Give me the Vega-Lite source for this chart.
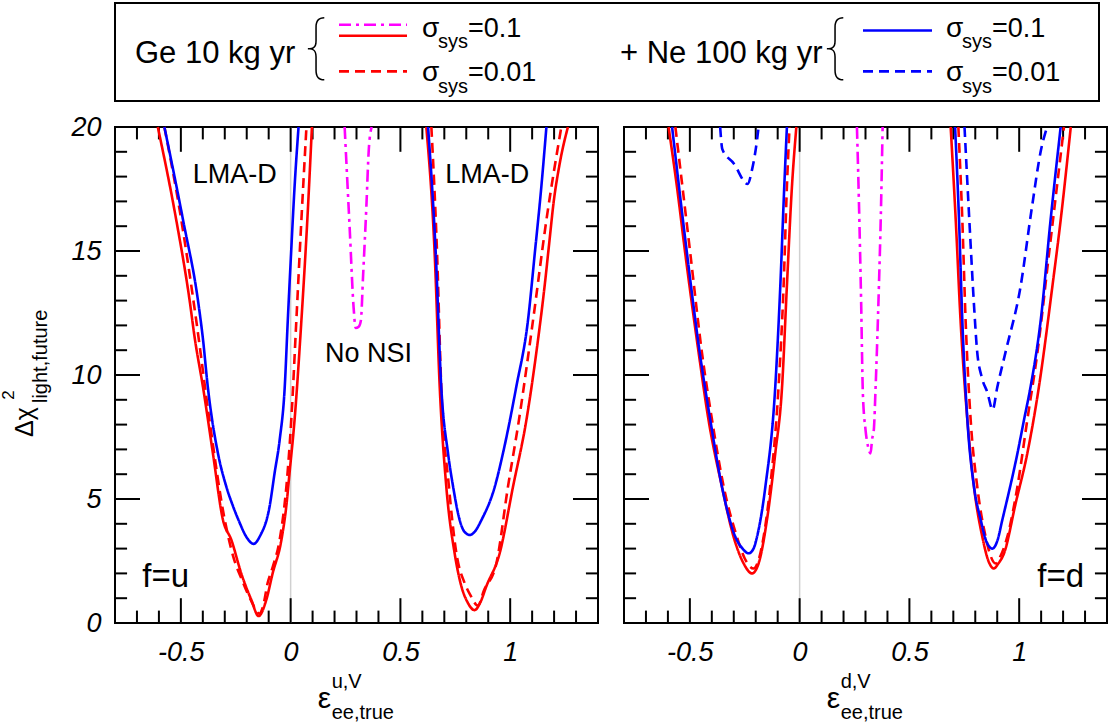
{
  "$schema": "https://vega.github.io/schema/vega-lite/v6.json",
  "background": "white",
  "autosize": {"type": "none"},
  "padding": {"left": 115, "top": 3, "right": 996, "bottom": 722},
  "config": {
    "font": "Liberation Sans",
    "view": {"stroke": "black", "strokeWidth": 2},
    "axis": {"grid": false, "domain": false, "labelFont": "Liberation Sans", "labelFontSize": 27, "labelFontStyle": "italic", "labelColor": "black", "labelFlush": false, "labelOverlap": false, "labelBound": false},
    "text": {"font": "Liberation Sans", "color": "black"}
  },
  "datasets": {
    "ticks": [
      {"tid": "bM1", "x": -0.5, "y": 0}, {"tid": "bM1", "x": -0.5, "y": 1}, {"tid": "bM2", "x": 0, "y": 0}, {"tid": "bM2", "x": 0, "y": 1}, {"tid": "bM3", "x": 0.5, "y": 0}, {"tid": "bM3", "x": 0.5, "y": 1}, {"tid": "bM4", "x": 1, "y": 0}, {"tid": "bM4", "x": 1, "y": 1},
      {"tid": "tM1", "x": -0.5, "y": 20}, {"tid": "tM1", "x": -0.5, "y": 19}, {"tid": "tM2", "x": 0, "y": 20}, {"tid": "tM2", "x": 0, "y": 19}, {"tid": "tM3", "x": 0.5, "y": 20}, {"tid": "tM3", "x": 0.5, "y": 19}, {"tid": "tM4", "x": 1, "y": 20}, {"tid": "tM4", "x": 1, "y": 19},
      {"tid": "bm1", "x": -0.7, "y": 0}, {"tid": "bm1", "x": -0.7, "y": 0.5}, {"tid": "bm2", "x": -0.6, "y": 0}, {"tid": "bm2", "x": -0.6, "y": 0.5}, {"tid": "bm3", "x": -0.4, "y": 0}, {"tid": "bm3", "x": -0.4, "y": 0.5}, {"tid": "bm4", "x": -0.3, "y": 0}, {"tid": "bm4", "x": -0.3, "y": 0.5}, {"tid": "bm5", "x": -0.2, "y": 0}, {"tid": "bm5", "x": -0.2, "y": 0.5}, {"tid": "bm6", "x": -0.1, "y": 0}, {"tid": "bm6", "x": -0.1, "y": 0.5}, {"tid": "bm7", "x": 0.1, "y": 0}, {"tid": "bm7", "x": 0.1, "y": 0.5}, {"tid": "bm8", "x": 0.2, "y": 0}, {"tid": "bm8", "x": 0.2, "y": 0.5}, {"tid": "bm9", "x": 0.3, "y": 0}, {"tid": "bm9", "x": 0.3, "y": 0.5}, {"tid": "bm10", "x": 0.4, "y": 0}, {"tid": "bm10", "x": 0.4, "y": 0.5}, {"tid": "bm11", "x": 0.6, "y": 0}, {"tid": "bm11", "x": 0.6, "y": 0.5}, {"tid": "bm12", "x": 0.7, "y": 0}, {"tid": "bm12", "x": 0.7, "y": 0.5}, {"tid": "bm13", "x": 0.8, "y": 0}, {"tid": "bm13", "x": 0.8, "y": 0.5}, {"tid": "bm14", "x": 0.9, "y": 0}, {"tid": "bm14", "x": 0.9, "y": 0.5}, {"tid": "bm15", "x": 1.1, "y": 0}, {"tid": "bm15", "x": 1.1, "y": 0.5}, {"tid": "bm16", "x": 1.2, "y": 0}, {"tid": "bm16", "x": 1.2, "y": 0.5}, {"tid": "bm17", "x": 1.3, "y": 0}, {"tid": "bm17", "x": 1.3, "y": 0.5},
      {"tid": "tm1", "x": -0.7, "y": 20}, {"tid": "tm1", "x": -0.7, "y": 19.5}, {"tid": "tm2", "x": -0.6, "y": 20}, {"tid": "tm2", "x": -0.6, "y": 19.5}, {"tid": "tm3", "x": -0.4, "y": 20}, {"tid": "tm3", "x": -0.4, "y": 19.5}, {"tid": "tm4", "x": -0.3, "y": 20}, {"tid": "tm4", "x": -0.3, "y": 19.5}, {"tid": "tm5", "x": -0.2, "y": 20}, {"tid": "tm5", "x": -0.2, "y": 19.5}, {"tid": "tm6", "x": -0.1, "y": 20}, {"tid": "tm6", "x": -0.1, "y": 19.5}, {"tid": "tm7", "x": 0.1, "y": 20}, {"tid": "tm7", "x": 0.1, "y": 19.5}, {"tid": "tm8", "x": 0.2, "y": 20}, {"tid": "tm8", "x": 0.2, "y": 19.5}, {"tid": "tm9", "x": 0.3, "y": 20}, {"tid": "tm9", "x": 0.3, "y": 19.5}, {"tid": "tm10", "x": 0.4, "y": 20}, {"tid": "tm10", "x": 0.4, "y": 19.5}, {"tid": "tm11", "x": 0.6, "y": 20}, {"tid": "tm11", "x": 0.6, "y": 19.5}, {"tid": "tm12", "x": 0.7, "y": 20}, {"tid": "tm12", "x": 0.7, "y": 19.5}, {"tid": "tm13", "x": 0.8, "y": 20}, {"tid": "tm13", "x": 0.8, "y": 19.5}, {"tid": "tm14", "x": 0.9, "y": 20}, {"tid": "tm14", "x": 0.9, "y": 19.5}, {"tid": "tm15", "x": 1.1, "y": 20}, {"tid": "tm15", "x": 1.1, "y": 19.5}, {"tid": "tm16", "x": 1.2, "y": 20}, {"tid": "tm16", "x": 1.2, "y": 19.5}, {"tid": "tm17", "x": 1.3, "y": 20}, {"tid": "tm17", "x": 1.3, "y": 19.5},
      {"tid": "lM1", "x": -0.8, "y": 5}, {"tid": "lM1", "x": -0.686, "y": 5}, {"tid": "lM2", "x": -0.8, "y": 10}, {"tid": "lM2", "x": -0.686, "y": 10}, {"tid": "lM3", "x": -0.8, "y": 15}, {"tid": "lM3", "x": -0.686, "y": 15},
      {"tid": "rM1", "x": 1.286, "y": 5}, {"tid": "rM1", "x": 1.4, "y": 5}, {"tid": "rM2", "x": 1.286, "y": 10}, {"tid": "rM2", "x": 1.4, "y": 10}, {"tid": "rM3", "x": 1.286, "y": 15}, {"tid": "rM3", "x": 1.4, "y": 15},
      {"tid": "lm1", "x": -0.8, "y": 1}, {"tid": "lm1", "x": -0.745, "y": 1}, {"tid": "lm2", "x": -0.8, "y": 2}, {"tid": "lm2", "x": -0.745, "y": 2}, {"tid": "lm3", "x": -0.8, "y": 3}, {"tid": "lm3", "x": -0.745, "y": 3}, {"tid": "lm4", "x": -0.8, "y": 4}, {"tid": "lm4", "x": -0.745, "y": 4}, {"tid": "lm5", "x": -0.8, "y": 6}, {"tid": "lm5", "x": -0.745, "y": 6}, {"tid": "lm6", "x": -0.8, "y": 7}, {"tid": "lm6", "x": -0.745, "y": 7}, {"tid": "lm7", "x": -0.8, "y": 8}, {"tid": "lm7", "x": -0.745, "y": 8}, {"tid": "lm8", "x": -0.8, "y": 9}, {"tid": "lm8", "x": -0.745, "y": 9}, {"tid": "lm9", "x": -0.8, "y": 11}, {"tid": "lm9", "x": -0.745, "y": 11}, {"tid": "lm10", "x": -0.8, "y": 12}, {"tid": "lm10", "x": -0.745, "y": 12}, {"tid": "lm11", "x": -0.8, "y": 13}, {"tid": "lm11", "x": -0.745, "y": 13}, {"tid": "lm12", "x": -0.8, "y": 14}, {"tid": "lm12", "x": -0.745, "y": 14}, {"tid": "lm13", "x": -0.8, "y": 16}, {"tid": "lm13", "x": -0.745, "y": 16}, {"tid": "lm14", "x": -0.8, "y": 17}, {"tid": "lm14", "x": -0.745, "y": 17}, {"tid": "lm15", "x": -0.8, "y": 18}, {"tid": "lm15", "x": -0.745, "y": 18}, {"tid": "lm16", "x": -0.8, "y": 19}, {"tid": "lm16", "x": -0.745, "y": 19},
      {"tid": "rm1", "x": 1.345, "y": 1}, {"tid": "rm1", "x": 1.4, "y": 1}, {"tid": "rm2", "x": 1.345, "y": 2}, {"tid": "rm2", "x": 1.4, "y": 2}, {"tid": "rm3", "x": 1.345, "y": 3}, {"tid": "rm3", "x": 1.4, "y": 3}, {"tid": "rm4", "x": 1.345, "y": 4}, {"tid": "rm4", "x": 1.4, "y": 4}, {"tid": "rm5", "x": 1.345, "y": 6}, {"tid": "rm5", "x": 1.4, "y": 6}, {"tid": "rm6", "x": 1.345, "y": 7}, {"tid": "rm6", "x": 1.4, "y": 7}, {"tid": "rm7", "x": 1.345, "y": 8}, {"tid": "rm7", "x": 1.4, "y": 8}, {"tid": "rm8", "x": 1.345, "y": 9}, {"tid": "rm8", "x": 1.4, "y": 9}, {"tid": "rm9", "x": 1.345, "y": 11}, {"tid": "rm9", "x": 1.4, "y": 11}, {"tid": "rm10", "x": 1.345, "y": 12}, {"tid": "rm10", "x": 1.4, "y": 12}, {"tid": "rm11", "x": 1.345, "y": 13}, {"tid": "rm11", "x": 1.4, "y": 13}, {"tid": "rm12", "x": 1.345, "y": 14}, {"tid": "rm12", "x": 1.4, "y": 14}, {"tid": "rm13", "x": 1.345, "y": 16}, {"tid": "rm13", "x": 1.4, "y": 16}, {"tid": "rm14", "x": 1.345, "y": 17}, {"tid": "rm14", "x": 1.4, "y": 17}, {"tid": "rm15", "x": 1.345, "y": 18}, {"tid": "rm15", "x": 1.4, "y": 18}, {"tid": "rm16", "x": 1.345, "y": 19}, {"tid": "rm16", "x": 1.4, "y": 19}
    ],
    "u": [
      {"series": "Ge 0.1", "branch": "A", "x": -0.605, "y": 20}, {"series": "Ge 0.1", "branch": "A", "x": -0.521, "y": 16.25}, {"series": "Ge 0.1", "branch": "A", "x": -0.46, "y": 13.0}, {"series": "Ge 0.1", "branch": "A", "x": -0.437, "y": 11.5}, {"series": "Ge 0.1", "branch": "A", "x": -0.399, "y": 9.5}, {"series": "Ge 0.1", "branch": "A", "x": -0.354, "y": 6.84}, {"series": "Ge 0.1", "branch": "A", "x": -0.308, "y": 4.15}, {"series": "Ge 0.1", "branch": "A", "x": -0.27, "y": 3.35}, {"series": "Ge 0.1", "branch": "A", "x": -0.225, "y": 2.0}, {"series": "Ge 0.1", "branch": "A", "x": -0.179, "y": 0.93}, {"series": "Ge 0.1", "branch": "A", "x": -0.146, "y": 0.28}, {"series": "Ge 0.1", "branch": "A", "x": -0.111, "y": 0.93}, {"series": "Ge 0.1", "branch": "A", "x": -0.082, "y": 2.0}, {"series": "Ge 0.1", "branch": "A", "x": -0.042, "y": 3.35}, {"series": "Ge 0.1", "branch": "A", "x": -0.02, "y": 4.69}, {"series": "Ge 0.1", "branch": "A", "x": -0.005, "y": 6.05}, {"series": "Ge 0.1", "branch": "A", "x": 0.018, "y": 8.2}, {"series": "Ge 0.1", "branch": "A", "x": 0.049, "y": 12.2}, {"series": "Ge 0.1", "branch": "A", "x": 0.076, "y": 16.25}, {"series": "Ge 0.1", "branch": "A", "x": 0.097, "y": 20},
      {"series": "Ge 0.1", "branch": "B", "x": 0.618, "y": 20}, {"series": "Ge 0.1", "branch": "B", "x": 0.656, "y": 14.9}, {"series": "Ge 0.1", "branch": "B", "x": 0.679, "y": 9.53}, {"series": "Ge 0.1", "branch": "B", "x": 0.709, "y": 5.5}, {"series": "Ge 0.1", "branch": "B", "x": 0.747, "y": 2.81}, {"series": "Ge 0.1", "branch": "B", "x": 0.778, "y": 1.47}, {"series": "Ge 0.1", "branch": "B", "x": 0.805, "y": 0.85}, {"series": "Ge 0.1", "branch": "B", "x": 0.838, "y": 0.52}, {"series": "Ge 0.1", "branch": "B", "x": 0.865, "y": 0.85}, {"series": "Ge 0.1", "branch": "B", "x": 0.891, "y": 1.47}, {"series": "Ge 0.1", "branch": "B", "x": 0.952, "y": 2.81}, {"series": "Ge 0.1", "branch": "B", "x": 1.013, "y": 5.5}, {"series": "Ge 0.1", "branch": "B", "x": 1.074, "y": 8.19}, {"series": "Ge 0.1", "branch": "B", "x": 1.119, "y": 10.9}, {"series": "Ge 0.1", "branch": "B", "x": 1.157, "y": 13.6}, {"series": "Ge 0.1", "branch": "B", "x": 1.18, "y": 15.5}, {"series": "Ge 0.1", "branch": "B", "x": 1.197, "y": 16.9}, {"series": "Ge 0.1", "branch": "B", "x": 1.225, "y": 18.5}, {"series": "Ge 0.1", "branch": "B", "x": 1.263, "y": 20},
      {"series": "Ge 0.01", "branch": "A", "x": -0.575, "y": 20}, {"series": "Ge 0.01", "branch": "A", "x": -0.498, "y": 16.25}, {"series": "Ge 0.01", "branch": "A", "x": -0.43, "y": 12.2}, {"series": "Ge 0.01", "branch": "A", "x": -0.37, "y": 8.2}, {"series": "Ge 0.01", "branch": "A", "x": -0.3, "y": 4.15}, {"series": "Ge 0.01", "branch": "A", "x": -0.262, "y": 2.7}, {"series": "Ge 0.01", "branch": "A", "x": -0.22, "y": 1.7}, {"series": "Ge 0.01", "branch": "A", "x": -0.18, "y": 0.9}, {"series": "Ge 0.01", "branch": "A", "x": -0.143, "y": 0.38}, {"series": "Ge 0.01", "branch": "A", "x": -0.125, "y": 0.7}, {"series": "Ge 0.01", "branch": "A", "x": -0.105, "y": 1.6}, {"series": "Ge 0.01", "branch": "A", "x": -0.08, "y": 2.3}, {"series": "Ge 0.01", "branch": "A", "x": -0.05, "y": 3.35}, {"series": "Ge 0.01", "branch": "A", "x": -0.014, "y": 6.05}, {"series": "Ge 0.01", "branch": "A", "x": 0.003, "y": 8.2}, {"series": "Ge 0.01", "branch": "A", "x": 0.026, "y": 12.2}, {"series": "Ge 0.01", "branch": "A", "x": 0.049, "y": 16.25}, {"series": "Ge 0.01", "branch": "A", "x": 0.072, "y": 20},
      {"series": "Ge 0.01", "branch": "B", "x": 0.641, "y": 20}, {"series": "Ge 0.01", "branch": "B", "x": 0.667, "y": 14.9}, {"series": "Ge 0.01", "branch": "B", "x": 0.686, "y": 9.53}, {"series": "Ge 0.01", "branch": "B", "x": 0.721, "y": 5.5}, {"series": "Ge 0.01", "branch": "B", "x": 0.755, "y": 2.81}, {"series": "Ge 0.01", "branch": "B", "x": 0.793, "y": 1.6}, {"series": "Ge 0.01", "branch": "B", "x": 0.82, "y": 1.1}, {"series": "Ge 0.01", "branch": "B", "x": 0.853, "y": 0.7}, {"series": "Ge 0.01", "branch": "B", "x": 0.88, "y": 1.3}, {"series": "Ge 0.01", "branch": "B", "x": 0.937, "y": 2.4}, {"series": "Ge 0.01", "branch": "B", "x": 0.99, "y": 5.5}, {"series": "Ge 0.01", "branch": "B", "x": 1.04, "y": 8.19}, {"series": "Ge 0.01", "branch": "B", "x": 1.104, "y": 12.2}, {"series": "Ge 0.01", "branch": "B", "x": 1.165, "y": 16.25}, {"series": "Ge 0.01", "branch": "B", "x": 1.233, "y": 20},
      {"series": "Ge+Ne 0.1", "branch": "A", "x": -0.575, "y": 20}, {"series": "Ge+Ne 0.1", "branch": "A", "x": -0.49, "y": 16.25}, {"series": "Ge+Ne 0.1", "branch": "A", "x": -0.422, "y": 13.0}, {"series": "Ge+Ne 0.1", "branch": "A", "x": -0.4, "y": 11.5}, {"series": "Ge+Ne 0.1", "branch": "A", "x": -0.377, "y": 9.5}, {"series": "Ge+Ne 0.1", "branch": "A", "x": -0.331, "y": 6.84}, {"series": "Ge+Ne 0.1", "branch": "A", "x": -0.293, "y": 5.5}, {"series": "Ge+Ne 0.1", "branch": "A", "x": -0.262, "y": 4.7}, {"series": "Ge+Ne 0.1", "branch": "A", "x": -0.235, "y": 4.1}, {"series": "Ge+Ne 0.1", "branch": "A", "x": -0.2, "y": 3.45}, {"series": "Ge+Ne 0.1", "branch": "A", "x": -0.169, "y": 3.19}, {"series": "Ge+Ne 0.1", "branch": "A", "x": -0.14, "y": 3.5}, {"series": "Ge+Ne 0.1", "branch": "A", "x": -0.096, "y": 4.69}, {"series": "Ge+Ne 0.1", "branch": "A", "x": -0.073, "y": 6.05}, {"series": "Ge+Ne 0.1", "branch": "A", "x": -0.05, "y": 7.38}, {"series": "Ge+Ne 0.1", "branch": "A", "x": -0.027, "y": 9.5}, {"series": "Ge+Ne 0.1", "branch": "A", "x": -0.013, "y": 12.2}, {"series": "Ge+Ne 0.1", "branch": "A", "x": 0.002, "y": 14.9}, {"series": "Ge+Ne 0.1", "branch": "A", "x": 0.018, "y": 17.6}, {"series": "Ge+Ne 0.1", "branch": "A", "x": 0.036, "y": 20},
      {"series": "Ge+Ne 0.1", "branch": "B", "x": 0.626, "y": 20}, {"series": "Ge+Ne 0.1", "branch": "B", "x": 0.661, "y": 14.9}, {"series": "Ge+Ne 0.1", "branch": "B", "x": 0.686, "y": 9.53}, {"series": "Ge+Ne 0.1", "branch": "B", "x": 0.717, "y": 6.84}, {"series": "Ge+Ne 0.1", "branch": "B", "x": 0.74, "y": 5.5}, {"series": "Ge+Ne 0.1", "branch": "B", "x": 0.77, "y": 4.15}, {"series": "Ge+Ne 0.1", "branch": "B", "x": 0.79, "y": 3.7}, {"series": "Ge+Ne 0.1", "branch": "B", "x": 0.816, "y": 3.55}, {"series": "Ge+Ne 0.1", "branch": "B", "x": 0.84, "y": 3.7}, {"series": "Ge+Ne 0.1", "branch": "B", "x": 0.869, "y": 4.15}, {"series": "Ge+Ne 0.1", "branch": "B", "x": 0.93, "y": 5.5}, {"series": "Ge+Ne 0.1", "branch": "B", "x": 0.967, "y": 6.84}, {"series": "Ge+Ne 0.1", "branch": "B", "x": 1.028, "y": 9.53}, {"series": "Ge+Ne 0.1", "branch": "B", "x": 1.081, "y": 12.2}, {"series": "Ge+Ne 0.1", "branch": "B", "x": 1.112, "y": 14.9}, {"series": "Ge+Ne 0.1", "branch": "B", "x": 1.142, "y": 17.6}, {"series": "Ge+Ne 0.1", "branch": "B", "x": 1.165, "y": 20},
      {"series": "Ge 0.1 no NSI", "branch": "A", "x": 0.246, "y": 20}, {"series": "Ge 0.1 no NSI", "branch": "A", "x": 0.251, "y": 19.1}, {"series": "Ge 0.1 no NSI", "branch": "A", "x": 0.269, "y": 15.9}, {"series": "Ge 0.1 no NSI", "branch": "A", "x": 0.287, "y": 12.7}, {"series": "Ge 0.1 no NSI", "branch": "A", "x": 0.296, "y": 11.9}, {"series": "Ge 0.1 no NSI", "branch": "A", "x": 0.31, "y": 11.95}, {"series": "Ge 0.1 no NSI", "branch": "A", "x": 0.32, "y": 12.2}, {"series": "Ge 0.1 no NSI", "branch": "A", "x": 0.33, "y": 14.0}, {"series": "Ge 0.1 no NSI", "branch": "A", "x": 0.345, "y": 16.8}, {"series": "Ge 0.1 no NSI", "branch": "A", "x": 0.356, "y": 19.1}, {"series": "Ge 0.1 no NSI", "branch": "A", "x": 0.369, "y": 20}
    ],
    "d": [
      {"series": "Ge 0.1", "branch": "A", "x": -0.597, "y": 20}, {"series": "Ge 0.1", "branch": "A", "x": -0.559, "y": 17.6}, {"series": "Ge 0.1", "branch": "A", "x": -0.521, "y": 14.9}, {"series": "Ge 0.1", "branch": "A", "x": -0.46, "y": 10.9}, {"series": "Ge 0.1", "branch": "A", "x": -0.415, "y": 8.19}, {"series": "Ge 0.1", "branch": "A", "x": -0.354, "y": 5.5}, {"series": "Ge 0.1", "branch": "A", "x": -0.301, "y": 3.48}, {"series": "Ge 0.1", "branch": "A", "x": -0.255, "y": 2.4}, {"series": "Ge 0.1", "branch": "A", "x": -0.217, "y": 2.0}, {"series": "Ge 0.1", "branch": "A", "x": -0.187, "y": 2.4}, {"series": "Ge 0.1", "branch": "A", "x": -0.149, "y": 4.15}, {"series": "Ge 0.1", "branch": "A", "x": -0.111, "y": 6.84}, {"series": "Ge 0.1", "branch": "A", "x": -0.08, "y": 9.53}, {"series": "Ge 0.1", "branch": "A", "x": -0.058, "y": 13.6}, {"series": "Ge 0.1", "branch": "A", "x": -0.035, "y": 17.6}, {"series": "Ge 0.1", "branch": "A", "x": -0.015, "y": 20},
      {"series": "Ge 0.1", "branch": "B", "x": 0.688, "y": 20}, {"series": "Ge 0.1", "branch": "B", "x": 0.711, "y": 16.25}, {"series": "Ge 0.1", "branch": "B", "x": 0.733, "y": 12.2}, {"series": "Ge 0.1", "branch": "B", "x": 0.764, "y": 8.19}, {"series": "Ge 0.1", "branch": "B", "x": 0.794, "y": 5.5}, {"series": "Ge 0.1", "branch": "B", "x": 0.832, "y": 3.48}, {"series": "Ge 0.1", "branch": "B", "x": 0.86, "y": 2.5}, {"series": "Ge 0.1", "branch": "B", "x": 0.885, "y": 2.2}, {"series": "Ge 0.1", "branch": "B", "x": 0.905, "y": 2.4}, {"series": "Ge 0.1", "branch": "B", "x": 0.931, "y": 2.81}, {"series": "Ge 0.1", "branch": "B", "x": 0.984, "y": 4.83}, {"series": "Ge 0.1", "branch": "B", "x": 1.037, "y": 6.84}, {"series": "Ge 0.1", "branch": "B", "x": 1.09, "y": 9.53}, {"series": "Ge 0.1", "branch": "B", "x": 1.151, "y": 13.56}, {"series": "Ge 0.1", "branch": "B", "x": 1.189, "y": 16.25}, {"series": "Ge 0.1", "branch": "B", "x": 1.235, "y": 20},
      {"series": "Ge 0.01", "branch": "A", "x": -0.566, "y": 20}, {"series": "Ge 0.01", "branch": "A", "x": -0.498, "y": 14.9}, {"series": "Ge 0.01", "branch": "A", "x": -0.445, "y": 10.9}, {"series": "Ge 0.01", "branch": "A", "x": -0.399, "y": 8.19}, {"series": "Ge 0.01", "branch": "A", "x": -0.346, "y": 5.5}, {"series": "Ge 0.01", "branch": "A", "x": -0.286, "y": 3.48}, {"series": "Ge 0.01", "branch": "A", "x": -0.25, "y": 2.6}, {"series": "Ge 0.01", "branch": "A", "x": -0.21, "y": 2.2}, {"series": "Ge 0.01", "branch": "A", "x": -0.185, "y": 2.6}, {"series": "Ge 0.01", "branch": "A", "x": -0.164, "y": 3.48}, {"series": "Ge 0.01", "branch": "A", "x": -0.134, "y": 5.5}, {"series": "Ge 0.01", "branch": "A", "x": -0.096, "y": 9.53}, {"series": "Ge 0.01", "branch": "A", "x": -0.073, "y": 13.6}, {"series": "Ge 0.01", "branch": "A", "x": -0.058, "y": 17.6}, {"series": "Ge 0.01", "branch": "A", "x": -0.046, "y": 20},
      {"series": "Ge 0.01", "branch": "B", "x": 0.723, "y": 20}, {"series": "Ge 0.01", "branch": "B", "x": 0.741, "y": 16.25}, {"series": "Ge 0.01", "branch": "B", "x": 0.756, "y": 12.2}, {"series": "Ge 0.01", "branch": "B", "x": 0.779, "y": 8.19}, {"series": "Ge 0.01", "branch": "B", "x": 0.809, "y": 5.5}, {"series": "Ge 0.01", "branch": "B", "x": 0.847, "y": 3.48}, {"series": "Ge 0.01", "branch": "B", "x": 0.87, "y": 2.7}, {"series": "Ge 0.01", "branch": "B", "x": 0.893, "y": 2.4}, {"series": "Ge 0.01", "branch": "B", "x": 0.915, "y": 2.7}, {"series": "Ge 0.01", "branch": "B", "x": 0.946, "y": 3.48}, {"series": "Ge 0.01", "branch": "B", "x": 0.992, "y": 5.5}, {"series": "Ge 0.01", "branch": "B", "x": 1.037, "y": 8.19}, {"series": "Ge 0.01", "branch": "B", "x": 1.083, "y": 10.9}, {"series": "Ge 0.01", "branch": "B", "x": 1.136, "y": 14.9}, {"series": "Ge 0.01", "branch": "B", "x": 1.204, "y": 20},
      {"series": "Ge+Ne 0.1", "branch": "A", "x": -0.581, "y": 20}, {"series": "Ge+Ne 0.1", "branch": "A", "x": -0.513, "y": 14.9}, {"series": "Ge+Ne 0.1", "branch": "A", "x": -0.455, "y": 10.9}, {"series": "Ge+Ne 0.1", "branch": "A", "x": -0.407, "y": 8.19}, {"series": "Ge+Ne 0.1", "branch": "A", "x": -0.354, "y": 5.5}, {"series": "Ge+Ne 0.1", "branch": "A", "x": -0.293, "y": 3.48}, {"series": "Ge+Ne 0.1", "branch": "A", "x": -0.26, "y": 3.0}, {"series": "Ge+Ne 0.1", "branch": "A", "x": -0.232, "y": 2.81}, {"series": "Ge+Ne 0.1", "branch": "A", "x": -0.21, "y": 3.0}, {"series": "Ge+Ne 0.1", "branch": "A", "x": -0.194, "y": 3.48}, {"series": "Ge+Ne 0.1", "branch": "A", "x": -0.156, "y": 5.5}, {"series": "Ge+Ne 0.1", "branch": "A", "x": -0.111, "y": 9.53}, {"series": "Ge+Ne 0.1", "branch": "A", "x": -0.088, "y": 13.6}, {"series": "Ge+Ne 0.1", "branch": "A", "x": -0.07, "y": 17.6}, {"series": "Ge+Ne 0.1", "branch": "A", "x": -0.058, "y": 20},
      {"series": "Ge+Ne 0.1", "branch": "B", "x": 0.708, "y": 20}, {"series": "Ge+Ne 0.1", "branch": "B", "x": 0.726, "y": 16.25}, {"series": "Ge+Ne 0.1", "branch": "B", "x": 0.741, "y": 12.2}, {"series": "Ge+Ne 0.1", "branch": "B", "x": 0.764, "y": 8.19}, {"series": "Ge+Ne 0.1", "branch": "B", "x": 0.794, "y": 5.5}, {"series": "Ge+Ne 0.1", "branch": "B", "x": 0.825, "y": 4.15}, {"series": "Ge+Ne 0.1", "branch": "B", "x": 0.85, "y": 3.3}, {"series": "Ge+Ne 0.1", "branch": "B", "x": 0.878, "y": 3.0}, {"series": "Ge+Ne 0.1", "branch": "B", "x": 0.9, "y": 3.3}, {"series": "Ge+Ne 0.1", "branch": "B", "x": 0.923, "y": 4.15}, {"series": "Ge+Ne 0.1", "branch": "B", "x": 0.992, "y": 6.84}, {"series": "Ge+Ne 0.1", "branch": "B", "x": 1.022, "y": 8.19}, {"series": "Ge+Ne 0.1", "branch": "B", "x": 1.052, "y": 9.53}, {"series": "Ge+Ne 0.1", "branch": "B", "x": 1.098, "y": 12.2}, {"series": "Ge+Ne 0.1", "branch": "B", "x": 1.143, "y": 16.25}, {"series": "Ge+Ne 0.1", "branch": "B", "x": 1.189, "y": 20},
      {"series": "Ge+Ne 0.01", "branch": "A", "x": -0.362, "y": 20}, {"series": "Ge+Ne 0.01", "branch": "A", "x": -0.352, "y": 19.1}, {"series": "Ge+Ne 0.01", "branch": "A", "x": -0.3, "y": 18.53}, {"series": "Ge+Ne 0.01", "branch": "A", "x": -0.237, "y": 17.7}, {"series": "Ge+Ne 0.01", "branch": "A", "x": -0.217, "y": 18.27}, {"series": "Ge+Ne 0.01", "branch": "A", "x": -0.194, "y": 19.48}, {"series": "Ge+Ne 0.01", "branch": "A", "x": -0.187, "y": 20},
      {"series": "Ge+Ne 0.01", "branch": "B", "x": 0.751, "y": 20}, {"series": "Ge+Ne 0.01", "branch": "B", "x": 0.775, "y": 15.9}, {"series": "Ge+Ne 0.01", "branch": "B", "x": 0.795, "y": 12.7}, {"series": "Ge+Ne 0.01", "branch": "B", "x": 0.808, "y": 11.0}, {"series": "Ge+Ne 0.01", "branch": "B", "x": 0.83, "y": 9.9}, {"series": "Ge+Ne 0.01", "branch": "B", "x": 0.855, "y": 9.3}, {"series": "Ge+Ne 0.01", "branch": "B", "x": 0.879, "y": 8.6}, {"series": "Ge+Ne 0.01", "branch": "B", "x": 0.9, "y": 9.5}, {"series": "Ge+Ne 0.01", "branch": "B", "x": 0.94, "y": 11.0}, {"series": "Ge+Ne 0.01", "branch": "B", "x": 1.005, "y": 13.5}, {"series": "Ge+Ne 0.01", "branch": "B", "x": 1.057, "y": 16.7}, {"series": "Ge+Ne 0.01", "branch": "B", "x": 1.1, "y": 19.1}, {"series": "Ge+Ne 0.01", "branch": "B", "x": 1.127, "y": 20},
      {"series": "Ge 0.1 no NSI", "branch": "A", "x": 0.261, "y": 20}, {"series": "Ge 0.1 no NSI", "branch": "A", "x": 0.27, "y": 17}, {"series": "Ge 0.1 no NSI", "branch": "A", "x": 0.28, "y": 13}, {"series": "Ge 0.1 no NSI", "branch": "A", "x": 0.288, "y": 9.26}, {"series": "Ge 0.1 no NSI", "branch": "A", "x": 0.3, "y": 7.8}, {"series": "Ge 0.1 no NSI", "branch": "A", "x": 0.312, "y": 7.1}, {"series": "Ge 0.1 no NSI", "branch": "A", "x": 0.323, "y": 6.84}, {"series": "Ge 0.1 no NSI", "branch": "A", "x": 0.33, "y": 7.4}, {"series": "Ge 0.1 no NSI", "branch": "A", "x": 0.338, "y": 7.8}, {"series": "Ge 0.1 no NSI", "branch": "A", "x": 0.346, "y": 9.5}, {"series": "Ge 0.1 no NSI", "branch": "A", "x": 0.361, "y": 13.56}, {"series": "Ge 0.1 no NSI", "branch": "A", "x": 0.37, "y": 16.5}, {"series": "Ge 0.1 no NSI", "branch": "A", "x": 0.378, "y": 20}
    ]
  },
  "vconcat": [
    {
      "width": 984,
      "height": 98,
      "layer": [
        {"data": {"values": [{}]}, "mark": {"type": "text", "text": "Ge 10 kg yr", "fontSize": 31, "align": "left", "baseline": "alphabetic"},
         "encoding": {"x": {"datum": 20, "type": "quantitative", "scale": {"domain": [0, 984], "nice": false, "zero": false}, "axis": null}, "y": {"datum": 59.5, "type": "quantitative", "scale": {"domain": [98, 0], "nice": false, "zero": false}, "axis": null}}},
        {"data": {"values": [{}]}, "mark": {"type": "text", "text": "+ Ne 100 kg yr", "fontSize": 31, "align": "left", "baseline": "alphabetic"},
         "encoding": {"x": {"datum": 505, "type": "quantitative", "axis": null}, "y": {"datum": 59.5, "type": "quantitative", "axis": null}}},
        {"data": {"values": [{}]}, "mark": {"type": "text", "text": "{", "font": "Inter", "fontWeight": 100, "fontSize": 70, "align": "left", "baseline": "alphabetic"},
         "encoding": {"x": {"datum": 187, "type": "quantitative", "axis": null}, "y": {"datum": 68, "type": "quantitative", "axis": null}}},
        {"data": {"values": [{}]}, "mark": {"type": "text", "text": "{", "font": "Inter", "fontWeight": 100, "fontSize": 70, "align": "left", "baseline": "alphabetic"},
         "encoding": {"x": {"datum": 706, "type": "quantitative", "axis": null}, "y": {"datum": 68, "type": "quantitative", "axis": null}}},
        {"data": {"values": [{}]}, "mark": {"type": "rule", "color": "#ff00ff", "strokeWidth": 2.6, "strokeDash": [12, 5, 3, 5], "strokeCap": "butt"},
         "encoding": {"x": {"datum": 224, "type": "quantitative", "axis": null}, "x2": {"datum": 292}, "y": {"datum": 21.7, "type": "quantitative", "axis": null}}},
        {"data": {"values": [{}]}, "mark": {"type": "rule", "color": "#ff0000", "strokeWidth": 2.6, "strokeCap": "butt"},
         "encoding": {"x": {"datum": 224, "type": "quantitative", "axis": null}, "x2": {"datum": 292}, "y": {"datum": 32.7, "type": "quantitative", "axis": null}}},
        {"data": {"values": [{}]}, "mark": {"type": "rule", "color": "#ff0000", "strokeWidth": 2.6, "strokeDash": [10, 6], "strokeCap": "butt"},
         "encoding": {"x": {"datum": 224, "type": "quantitative", "axis": null}, "x2": {"datum": 292}, "y": {"datum": 68.4, "type": "quantitative", "axis": null}}},
        {"data": {"values": [{}]}, "mark": {"type": "rule", "color": "#0000ff", "strokeWidth": 2.6, "strokeCap": "butt"},
         "encoding": {"x": {"datum": 748, "type": "quantitative", "axis": null}, "x2": {"datum": 817}, "y": {"datum": 27.5, "type": "quantitative", "axis": null}}},
        {"data": {"values": [{}]}, "mark": {"type": "rule", "color": "#0000ff", "strokeWidth": 2.6, "strokeDash": [10, 6], "strokeCap": "butt"},
         "encoding": {"x": {"datum": 748, "type": "quantitative", "axis": null}, "x2": {"datum": 817}, "y": {"datum": 68.4, "type": "quantitative", "axis": null}}},
        {"data": {"values": [{}]}, "mark": {"type": "text", "text": "σ", "fontSize": 28, "align": "left", "baseline": "alphabetic"},
         "encoding": {"x": {"datum": 307, "type": "quantitative", "axis": null}, "y": {"datum": 33.5, "type": "quantitative", "axis": null}}},
        {"data": {"values": [{}]}, "mark": {"type": "text", "text": "σ", "fontSize": 28, "align": "left", "baseline": "alphabetic"},
         "encoding": {"x": {"datum": 307, "type": "quantitative", "axis": null}, "y": {"datum": 78.2, "type": "quantitative", "axis": null}}},
        {"data": {"values": [{}]}, "mark": {"type": "text", "text": "σ", "fontSize": 28, "align": "left", "baseline": "alphabetic"},
         "encoding": {"x": {"datum": 831, "type": "quantitative", "axis": null}, "y": {"datum": 33.5, "type": "quantitative", "axis": null}}},
        {"data": {"values": [{}]}, "mark": {"type": "text", "text": "σ", "fontSize": 28, "align": "left", "baseline": "alphabetic"},
         "encoding": {"x": {"datum": 831, "type": "quantitative", "axis": null}, "y": {"datum": 78.2, "type": "quantitative", "axis": null}}},
        {"data": {"values": [{}]}, "mark": {"type": "text", "text": "sys", "fontSize": 20, "align": "left", "baseline": "alphabetic"},
         "encoding": {"x": {"datum": 323, "type": "quantitative", "axis": null}, "y": {"datum": 44.5, "type": "quantitative", "axis": null}}},
        {"data": {"values": [{}]}, "mark": {"type": "text", "text": "sys", "fontSize": 20, "align": "left", "baseline": "alphabetic"},
         "encoding": {"x": {"datum": 323, "type": "quantitative", "axis": null}, "y": {"datum": 89.5, "type": "quantitative", "axis": null}}},
        {"data": {"values": [{}]}, "mark": {"type": "text", "text": "sys", "fontSize": 20, "align": "left", "baseline": "alphabetic"},
         "encoding": {"x": {"datum": 847, "type": "quantitative", "axis": null}, "y": {"datum": 44.5, "type": "quantitative", "axis": null}}},
        {"data": {"values": [{}]}, "mark": {"type": "text", "text": "sys", "fontSize": 20, "align": "left", "baseline": "alphabetic"},
         "encoding": {"x": {"datum": 847, "type": "quantitative", "axis": null}, "y": {"datum": 89.5, "type": "quantitative", "axis": null}}},
        {"data": {"values": [{}]}, "mark": {"type": "text", "text": "=0.1", "fontSize": 27, "align": "left", "baseline": "alphabetic"},
         "encoding": {"x": {"datum": 353, "type": "quantitative", "axis": null}, "y": {"datum": 33.5, "type": "quantitative", "axis": null}}},
        {"data": {"values": [{}]}, "mark": {"type": "text", "text": "=0.01", "fontSize": 27, "align": "left", "baseline": "alphabetic"},
         "encoding": {"x": {"datum": 353, "type": "quantitative", "axis": null}, "y": {"datum": 78.2, "type": "quantitative", "axis": null}}},
        {"data": {"values": [{}]}, "mark": {"type": "text", "text": "=0.1", "fontSize": 27, "align": "left", "baseline": "alphabetic"},
         "encoding": {"x": {"datum": 877, "type": "quantitative", "axis": null}, "y": {"datum": 33.5, "type": "quantitative", "axis": null}}},
        {"data": {"values": [{}]}, "mark": {"type": "text", "text": "=0.01", "fontSize": 27, "align": "left", "baseline": "alphabetic"},
         "encoding": {"x": {"datum": 877, "type": "quantitative", "axis": null}, "y": {"datum": 78.2, "type": "quantitative", "axis": null}}}
      ]
    },
    {
      "hconcat": [
        {
          "width": 483,
          "height": 496,
          "resolve": {"axis": {"x": "independent", "y": "independent"}},
          "layer": [
            {"data": {"values": [{}]}, "mark": {"type": "rule", "color": "#d0d0d0", "strokeWidth": 1.5},
             "encoding": {"x": {"datum": 0, "type": "quantitative", "scale": {"domain": [-0.8, 1.4], "nice": false, "zero": false}, "axis": {"orient": "bottom", "values": [-0.5, 0, 0.5, 1], "labelExpr": "'' + datum.value", "ticks": false, "labelPadding": 16, "title": null}}}},
            {"data": {"values": [{}]}, "mark": {"type": "point", "opacity": 0},
             "encoding": {"x": {"datum": 0, "type": "quantitative", "axis": null},
                          "y": {"datum": 0, "type": "quantitative", "scale": {"domain": [0, 20], "nice": false, "zero": false}, "axis": {"orient": "left", "values": [0, 5, 10, 15, 20], "ticks": false, "labelPadding": 14, "title": null}}}},
            {"data": {"name": "ticks"}, "mark": {"type": "line", "color": "black", "strokeWidth": 2, "strokeCap": "butt"},
             "encoding": {"x": {"field": "x", "type": "quantitative", "axis": null}, "y": {"field": "y", "type": "quantitative", "axis": null}, "detail": {"field": "tid"}}},
            {"data": {"name": "u"}, "mark": {"type": "line", "strokeWidth": 2.6, "interpolate": "monotone", "strokeCap": "butt"},
             "encoding": {
               "x": {"field": "x", "type": "quantitative", "axis": null},
               "y": {"field": "y", "type": "quantitative", "axis": null},
               "detail": {"field": "branch"},
               "color": {"field": "series", "type": "nominal", "legend": null, "scale": {"domain": ["Ge+Ne 0.1", "Ge+Ne 0.01", "Ge 0.1", "Ge 0.01", "Ge 0.1 no NSI"], "range": ["#0000ff", "#0000ff", "#ff0000", "#ff0000", "#ff00ff"]}},
               "strokeDash": {"field": "series", "type": "nominal", "legend": null, "scale": {"domain": ["Ge+Ne 0.1", "Ge+Ne 0.01", "Ge 0.1", "Ge 0.01", "Ge 0.1 no NSI"], "range": [[1, 0], [10, 6], [1, 0], [10, 6], [12, 5, 3, 5]]}}
             }},
            {"data": {"values": [{}]}, "mark": {"type": "text", "text": "LMA-D", "fontSize": 27, "align": "center", "baseline": "alphabetic"},
             "encoding": {"x": {"datum": -0.255, "type": "quantitative", "axis": null}, "y": {"datum": 17.74, "type": "quantitative", "axis": null}}},
            {"data": {"values": [{}]}, "mark": {"type": "text", "text": "LMA-D", "fontSize": 27, "align": "center", "baseline": "alphabetic"},
             "encoding": {"x": {"datum": 0.895, "type": "quantitative", "axis": null}, "y": {"datum": 17.74, "type": "quantitative", "axis": null}}},
            {"data": {"values": [{}]}, "mark": {"type": "text", "text": "No NSI", "fontSize": 27, "align": "center", "baseline": "alphabetic"},
             "encoding": {"x": {"datum": 0.355, "type": "quantitative", "axis": null}, "y": {"datum": 10.52, "type": "quantitative", "axis": null}}},
            {"data": {"values": [{}]}, "mark": {"type": "text", "text": "f=u", "fontSize": 33, "align": "center", "baseline": "alphabetic"},
             "encoding": {"x": {"datum": -0.569, "type": "quantitative", "axis": null}, "y": {"datum": 1.45, "type": "quantitative", "axis": null}}},
            {"data": {"values": [{}]}, "mark": {"type": "text", "text": "Δχ", "fontSize": 25, "align": "left", "baseline": "alphabetic", "angle": 270},
             "encoding": {"x": {"datum": -1.175, "type": "quantitative", "axis": null}, "y": {"datum": 7.5, "type": "quantitative", "axis": null}}},
            {"data": {"values": [{}]}, "mark": {"type": "text", "text": "2", "fontSize": 17, "align": "left", "baseline": "alphabetic", "angle": 270},
             "encoding": {"x": {"datum": -1.262, "type": "quantitative", "axis": null}, "y": {"datum": 9.0, "type": "quantitative", "axis": null}}},
            {"data": {"values": [{}]}, "mark": {"type": "text", "text": "light,future", "fontSize": 20, "align": "left", "baseline": "alphabetic", "angle": 270},
             "encoding": {"x": {"datum": -1.112, "type": "quantitative", "axis": null}, "y": {"datum": 8.87, "type": "quantitative", "axis": null}}},
            {"data": {"values": [{}]}, "mark": {"type": "text", "text": "ε", "fontSize": 30, "align": "left", "baseline": "alphabetic"},
             "encoding": {"x": {"datum": 0.123, "type": "quantitative", "axis": null}, "y": {"datum": -3.43, "type": "quantitative", "axis": null}}},
            {"data": {"values": [{}]}, "mark": {"type": "text", "text": "u,V", "fontSize": 20, "align": "left", "baseline": "alphabetic"},
             "encoding": {"x": {"datum": 0.187, "type": "quantitative", "axis": null}, "y": {"datum": -2.62, "type": "quantitative", "axis": null}}},
            {"data": {"values": [{}]}, "mark": {"type": "text", "text": "ee,true", "fontSize": 20, "align": "left", "baseline": "alphabetic"},
             "encoding": {"x": {"datum": 0.187, "type": "quantitative", "axis": null}, "y": {"datum": -3.87, "type": "quantitative", "axis": null}}}
          ]
        },
        {
          "width": 483,
          "height": 496,
          "resolve": {"axis": {"x": "independent", "y": "independent"}},
          "layer": [
            {"data": {"values": [{}]}, "mark": {"type": "rule", "color": "#d0d0d0", "strokeWidth": 1.5},
             "encoding": {"x": {"datum": 0, "type": "quantitative", "scale": {"domain": [-0.8, 1.4], "nice": false, "zero": false}, "axis": {"orient": "bottom", "values": [-0.5, 0, 0.5, 1], "labelExpr": "'' + datum.value", "ticks": false, "labelPadding": 16, "title": null}}}},
            {"data": {"name": "ticks"}, "mark": {"type": "line", "color": "black", "strokeWidth": 2, "strokeCap": "butt"},
             "encoding": {"x": {"field": "x", "type": "quantitative", "axis": null}, "y": {"field": "y", "type": "quantitative", "scale": {"domain": [0, 20], "nice": false, "zero": false}, "axis": null}, "detail": {"field": "tid"}}},
            {"data": {"name": "d"}, "mark": {"type": "line", "strokeWidth": 2.6, "interpolate": "monotone", "strokeCap": "butt"},
             "encoding": {
               "x": {"field": "x", "type": "quantitative", "axis": null},
               "y": {"field": "y", "type": "quantitative", "axis": null},
               "detail": {"field": "branch"},
               "color": {"field": "series", "type": "nominal", "legend": null, "scale": {"domain": ["Ge+Ne 0.1", "Ge+Ne 0.01", "Ge 0.1", "Ge 0.01", "Ge 0.1 no NSI"], "range": ["#0000ff", "#0000ff", "#ff0000", "#ff0000", "#ff00ff"]}},
               "strokeDash": {"field": "series", "type": "nominal", "legend": null, "scale": {"domain": ["Ge+Ne 0.1", "Ge+Ne 0.01", "Ge 0.1", "Ge 0.01", "Ge 0.1 no NSI"], "range": [[1, 0], [10, 6], [1, 0], [10, 6], [12, 5, 3, 5]]}}
             }},
            {"data": {"values": [{}]}, "mark": {"type": "text", "text": "f=d", "fontSize": 33, "align": "center", "baseline": "alphabetic"},
             "encoding": {"x": {"datum": 1.189, "type": "quantitative", "axis": null}, "y": {"datum": 1.45, "type": "quantitative", "axis": null}}},
            {"data": {"values": [{}]}, "mark": {"type": "text", "text": "ε", "fontSize": 30, "align": "left", "baseline": "alphabetic"},
             "encoding": {"x": {"datum": 0.123, "type": "quantitative", "axis": null}, "y": {"datum": -3.43, "type": "quantitative", "axis": null}}},
            {"data": {"values": [{}]}, "mark": {"type": "text", "text": "d,V", "fontSize": 20, "align": "left", "baseline": "alphabetic"},
             "encoding": {"x": {"datum": 0.187, "type": "quantitative", "axis": null}, "y": {"datum": -2.62, "type": "quantitative", "axis": null}}},
            {"data": {"values": [{}]}, "mark": {"type": "text", "text": "ee,true", "fontSize": 20, "align": "left", "baseline": "alphabetic"},
             "encoding": {"x": {"datum": 0.187, "type": "quantitative", "axis": null}, "y": {"datum": -3.87, "type": "quantitative", "axis": null}}}
          ]
        }
      ],
      "spacing": 26,
      "bounds": "flush"
    }
  ],
  "spacing": 26,
  "bounds": "flush"
}
